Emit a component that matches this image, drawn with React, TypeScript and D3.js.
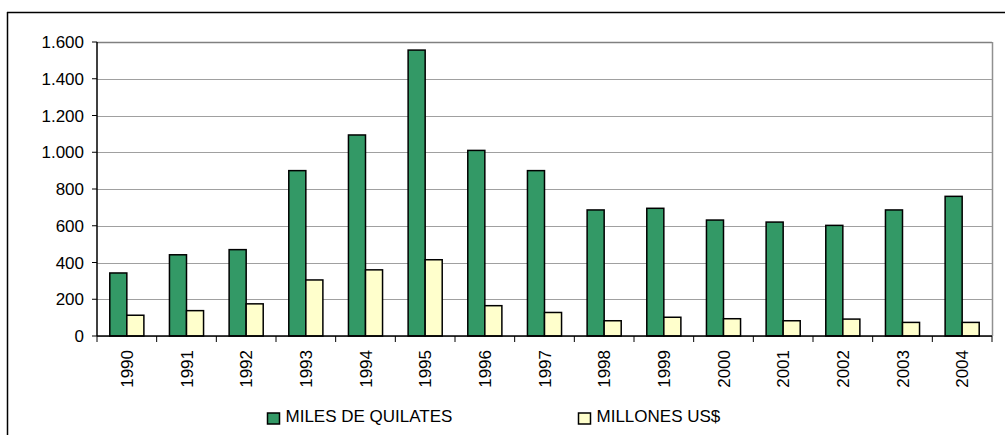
import React from "react";
import * as d3 from "d3";

const years = ["1990","1991","1992","1993","1994","1995","1996","1997","1998","1999","2000","2001","2002","2003","2004"];
const milesQuilates = [343, 442, 470, 900, 1094, 1556, 1010, 900, 686, 695, 631, 620, 602, 686, 760];
const millonesUS = [113, 138, 175, 305, 360, 415, 165, 128, 83, 102, 94, 83, 92, 74, 74];
const yTicks = [0, 200, 400, 600, 800, 1000, 1200, 1400, 1600];
const seriesNames = ["MILES DE QUILATES", "MILLONES US$"];
const colors = ["#339966", "#FFFFCC"];

const W = 1005, H = 435;
const plot = { left: 97, right: 992, top: 42, bottom: 336 };
const FONT = "'Liberation Sans', Arial, sans-serif";

export default function App() {
  const x = d3.scaleBand().domain(years).range([plot.left, plot.right]).paddingInner(0).paddingOuter(0);
  const bw = x.bandwidth();
  const barW = bw / 3.5;
  const gap = (bw - 2 * barW) / 2;
  const y = d3.scaleLinear().domain([0, 1600]).range([plot.bottom, plot.top]);
  const fmt = (v: number) => d3.format(",")(v).replace(/,/g, ".");
  const series = [milesQuilates, millonesUS];

  return (
    <svg width={W} height={H} style={{ position: "absolute", left: 0, top: 0, display: "block" }}>
      <rect x={0} y={0} width={W} height={H} fill="#fff" />
      {/* outer frame */}
      <line x1={7} y1={12.5} x2={W} y2={12.5} stroke="#000" strokeWidth={1.5} />
      <line x1={7.5} y1={12} x2={7.5} y2={H} stroke="#000" strokeWidth={1.5} />
      {/* gridlines */}
      {yTicks.map((t) => (
        <line key={t} x1={plot.left} x2={plot.right} y1={Math.round(y(t)) + 0.5} y2={Math.round(y(t)) + 0.5}
          stroke={t === 1600 ? "#808080" : "#a0a0a0"} strokeWidth={t === 1600 ? 1.5 : 1} />
      ))}
      {/* right border of plot */}
      <line x1={plot.right + 0.5} x2={plot.right + 0.5} y1={plot.top} y2={plot.bottom} stroke="#909090" strokeWidth={1.5} />
      {/* bars */}
      {years.map((yr, i) => (
        <g key={yr}>
          {series.map((s, k) => (
            <rect key={k}
              x={(x(yr) as number) + gap + k * barW}
              y={y(s[i])}
              width={barW}
              height={plot.bottom - y(s[i])}
              fill={colors[k]} stroke="#000" strokeWidth={1.5} />
          ))}
        </g>
      ))}
      {/* y axis */}
      <line x1={plot.left} x2={plot.left} y1={plot.top} y2={plot.bottom} stroke="#000" strokeWidth={1.5} />
      {yTicks.map((t) => (
        <g key={t}>
          <line x1={plot.left - 5} x2={plot.left} y1={y(t)} y2={y(t)} stroke="#000" strokeWidth={1} />
          <text x={84} y={y(t)} dy="0.36em" textAnchor="end" fontFamily={FONT} fontSize={17} fill="#000">{fmt(t)}</text>
        </g>
      ))}
      {/* x axis */}
      <line x1={plot.left} x2={plot.right} y1={plot.bottom} y2={plot.bottom} stroke="#000" strokeWidth={1.5} />
      {years.map((yr) => (
        <line key={"t" + yr} x1={x(yr) as number} x2={x(yr) as number} y1={plot.bottom} y2={plot.bottom + 6} stroke="#000" strokeWidth={1} />
      ))}
      <line x1={plot.right} x2={plot.right} y1={plot.bottom} y2={plot.bottom + 6} stroke="#000" strokeWidth={1} />
      {years.map((yr) => {
        const cx = (x(yr) as number) + bw / 2;
        return (
          <text key={"l" + yr} transform={`translate(${cx + 6},${350}) rotate(-90)`} textAnchor="end"
            fontFamily={FONT} fontSize={17} fill="#000">{yr}</text>
        );
      })}
      {/* legend */}
      {seriesNames.map((n, k) => {
        const lx = k === 0 ? 267.5 : 578.5;
        return (
          <g key={n}>
            <rect x={lx} y={413} width={12} height={11} fill={colors[k]} stroke="#000" strokeWidth={1.5} />
            <text x={lx + 18} y={422} fontFamily={FONT} fontSize={17} fill="#000">{n}</text>
          </g>
        );
      })}
    </svg>
  );
}
